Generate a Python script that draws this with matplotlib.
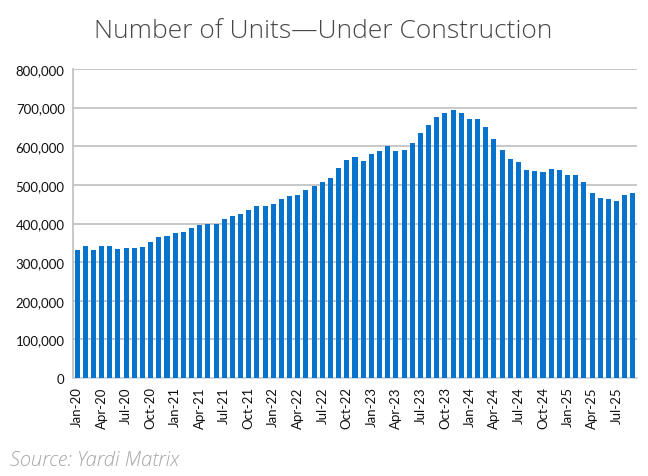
import numpy as np
import matplotlib
matplotlib.use('Agg')
import matplotlib.pyplot as plt
from matplotlib.ticker import FuncFormatter

# monthly units under construction, Jan-20 .. Sep-25
months = [f"{m}-{y:02d}" for y in range(20, 26)
          for m in ['Jan', 'Feb', 'Mar', 'Apr', 'May', 'Jun',
                    'Jul', 'Aug', 'Sep', 'Oct', 'Nov', 'Dec']][:69]
units = [
    332000, 341000, 332000, 342000, 342000, 335000, 337000, 336000, 339000,
    352000, 364000, 367000,
    375000, 379000, 388000, 397000, 400000, 398000, 412000, 420000, 424000,
    436000, 445000, 446000,
    450000, 463000, 471000, 475000, 488000, 496000, 507000, 518000, 544000,
    565000, 571000, 563000,
    581000, 588000, 600000, 588000, 591000, 608000, 635000, 654000, 676000,
    686000, 693000, 685000,
    670000, 671000, 650000, 619000, 589000, 568000, 560000, 538000, 535000,
    534000, 541000, 538000,
    525000, 525000, 507000, 480000, 466000, 464000, 459000, 473000, 479000,
]

BAR_COLOR = '#0873CD'
GRID_COLOR = '#BFBFBF'

fig = plt.figure(figsize=(6.48, 4.77), dpi=100)
ax = fig.add_axes([73 / 648, 1 - 379 / 477, (637 - 73) / 648, (379 - 70) / 477])

x = np.arange(len(units))
ax.bar(x, units, width=0.62, color=BAR_COLOR, zorder=3)

ax.set_xlim(-0.5, len(units) - 0.5)
ax.set_ylim(0, 800000)
ax.set_yticks(np.arange(0, 800001, 100000))
ax.yaxis.set_major_formatter(FuncFormatter(lambda v, p: f"{int(v):,}"))
ax.grid(True, axis='y', color=GRID_COLOR, linewidth=1.2, zorder=0)

ax.set_xticks(x[::3])
ax.set_xticklabels(months[::3], rotation=90)

for side in ['top', 'right']:
    ax.spines[side].set_visible(False)
ax.spines['left'].set_color(GRID_COLOR)
ax.spines['bottom'].set_color('#C8D3E0')
ax.spines['left'].set_linewidth(1.2)
ax.spines['bottom'].set_linewidth(1.2)
ax.tick_params(length=0, labelsize=9.5, colors='#111111', pad=6)
for lab in ax.get_xticklabels() + ax.get_yticklabels():
    lab.set_fontfamily('Lato')

fig.text(0.498, 1 - 31 / 477, 'Number of Units\u2014Under Construction',
         ha='center', va='center', fontsize=19, color='#484848',
         family='Open Sans', fontweight='light')
fig.text(10 / 648, 1 - 461 / 477, 'Source: Yardi Matrix', ha='left', va='center',
         fontsize=14.5, color='#A6A6A6', family='Open Sans', style='italic',
         fontweight='light')

fig.savefig('out.png', dpi=100)
